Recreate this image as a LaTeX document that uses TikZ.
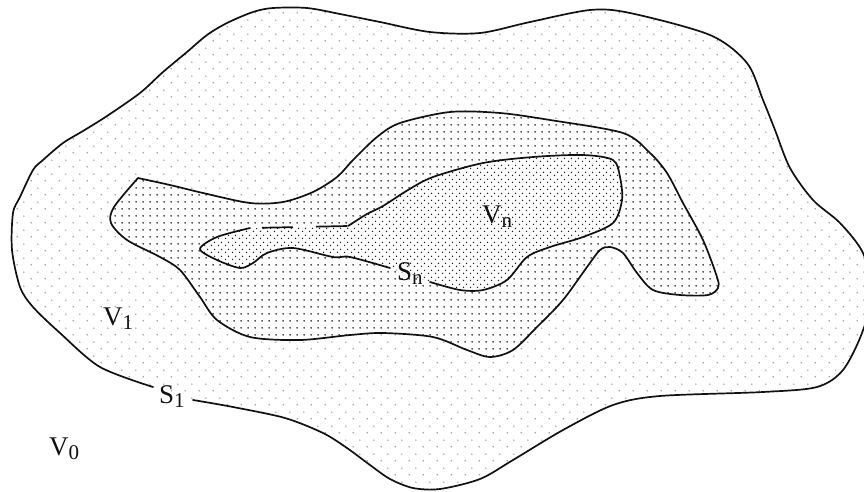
\documentclass[tikz,border=0pt]{standalone}
\usepackage{fontspec}
\setmainfont{Liberation Serif}
\usetikzlibrary{patterns}
\definecolor{Ink}{HTML}{111111}
\definecolor{DotLight}{HTML}{A0A0A0}
\definecolor{DotDark}{HTML}{1E1E1E}
% dot screens for the three nested regions
\pgfdeclarepatternformonly{sparsedots}{\pgfpointorigin}{\pgfpoint{14pt}{14pt}}{\pgfpoint{14pt}{14pt}}{%
  \pgfpathcircle{\pgfpoint{3.5pt}{3.5pt}}{0.9pt}%
  \pgfpathcircle{\pgfpoint{10.5pt}{10.5pt}}{0.9pt}%
  \pgfusepath{fill}}
\pgfdeclarepatternformonly{mediumdots}{\pgfpointorigin}{\pgfpoint{7pt}{7pt}}{\pgfpoint{7pt}{7pt}}{%
  \pgfpathcircle{\pgfpoint{3.5pt}{3.5pt}}{1.0pt}%
  \pgfusepath{fill}}
\pgfdeclarepatternformonly{densedots}{\pgfpointorigin}{\pgfpoint{7pt}{7pt}}{\pgfpoint{7pt}{7pt}}{%
  \pgfpathcircle{\pgfpoint{1.75pt}{1.75pt}}{0.85pt}%
  \pgfpathcircle{\pgfpoint{5.25pt}{5.25pt}}{0.85pt}%
  \pgfusepath{fill}}
\newcommand{\regionname}[2]{#1\raisebox{-4.5pt}{\fontsize{21}{21}\selectfont #2}}
\tikzset{
  outline/.style={draw=Ink, line width=1.7pt, line join=round, line cap=round},
  hiddenedge/.style={draw=Ink, line width=1.7pt, dash pattern=on 31pt off 23pt, dash phase=42pt},
  outerregion/.style={pattern=sparsedots, pattern color=DotLight},
  middleregion/.style={preaction={fill=white}, pattern=mediumdots, pattern color=DotDark},
  innerregion/.style={preaction={fill=white}, pattern=densedots, pattern color=DotDark},
  regionlabel/.style={font=\fontsize{27}{27}\selectfont, text=Ink, inner sep=0pt, anchor=base west},
}

\begin{document}
\begin{tikzpicture}[x=1pt, y=-1pt]
  \useasboundingbox (0,0) rectangle (864,491);
  \clip (0,0) rectangle (864,491);

  % Gap ends, where the boundary lines are broken by their labels.
  \coordinate (s1left) at (153,387);
  \coordinate (s1right) at (193,400);
  \coordinate (snleft) at (390,268);
  \coordinate (snright) at (430,282);
  \coordinate (dashstart) at (250,228);
  \coordinate (dashend) at (348,226);
  \coordinate (corner) at (138,178);

  % Outer region V1, bounded by S1.
  \path[outline, outerregion] plot[smooth, tension=0.5] coordinates {
    (s1right) (233,407) (285,418) (323,433) (347,448) (370,465) (390,479) (413,488) (440,489)
    (480,479) (513,460) (563,430) (613,405) (660,396) (763,392) (817,387) (843,370)
    (862,333) (872,293) (863,253) (840,223) (813,200) (790,168) (775,130) (763,100)
    (747,63) (710,35) (630,13) (590,10) (530,22) (480,33) (430,32) (380,22) (340,14)
    (307,8) (273,8) (253,12) (227,23) (207,35) (187,52) (163,72) (140,93)
    (107,116) (83,131) (63,143) (43,160) (33,170) (20,197) (13,213) (12,250) (20,287)
    (33,307) (60,333) (100,367) (s1left)};

  % Middle region, with its one sharp corner at the upper left.
  \path[outline, middleregion] plot[smooth, tension=0.5] coordinates {
    (corner) (170,185) (203,193) (250,203) (283,202) (313,192) (337,177) (353,160)
    (377,137) (400,123) (450,112) (500,113) (550,120) (623,133) (650,153) (667,173)
    (683,203) (703,240) (717,277) (718,288) (708,295) (680,295) (653,290) (637,273)
    (623,253) (610,247) (600,250) (587,267) (563,300) (537,327) (513,350) (490,357)
    (467,350) (433,337) (383,333) (350,335) (300,340) (250,337) (217,320) (200,297)
    (180,270) (160,257) (127,240) (111,223) (114,207) (corner)} -- cycle;

  % Inner region Vn, bounded by Sn.
  \path[innerregion] plot[smooth, tension=0.5] coordinates {
    (dashend) (367,214) (383,206) (408,190) (433,177) (483,163) (533,157) (583,155)
    (613,160) (620,177) (622,200) (613,223) (583,237) (550,247) (527,257) (507,280)
    (483,290) (460,290) (snright)}
    -- plot[smooth, tension=0.5] coordinates {
    (snleft) (350,257) (333,257) (293,248) (267,253) (253,263) (240,268) (217,260)
    (200,249) (217,237) (dashstart)} -- cycle;
  \draw[outline] plot[smooth, tension=0.5] coordinates {
    (dashend) (367,214) (383,206) (408,190) (433,177) (483,163) (533,157) (583,155)
    (613,160) (620,177) (622,200) (613,223) (583,237) (550,247) (527,257) (507,280)
    (483,290) (460,290) (snright)};
  \draw[outline] plot[smooth, tension=0.5] coordinates {
    (snleft) (350,257) (333,257) (293,248) (267,253) (253,263) (240,268) (217,260)
    (200,249) (217,237) (dashstart)};
  \draw[hiddenedge] (dashstart) -- (dashend);

  % Labels.
  \node[regionlabel] (vzero) at (49,455) {\regionname{V}{0}};
  \node[regionlabel] (vone) at (103,325) {\regionname{V}{1}};
  \node[regionlabel] (sone) at (159,403) {\regionname{S}{1}};
  \node[regionlabel] (vn) at (482,223) {\regionname{V}{n}};
  \node[regionlabel] (sn) at (397,280) {\regionname{S}{n}};
\end{tikzpicture}
\end{document}
